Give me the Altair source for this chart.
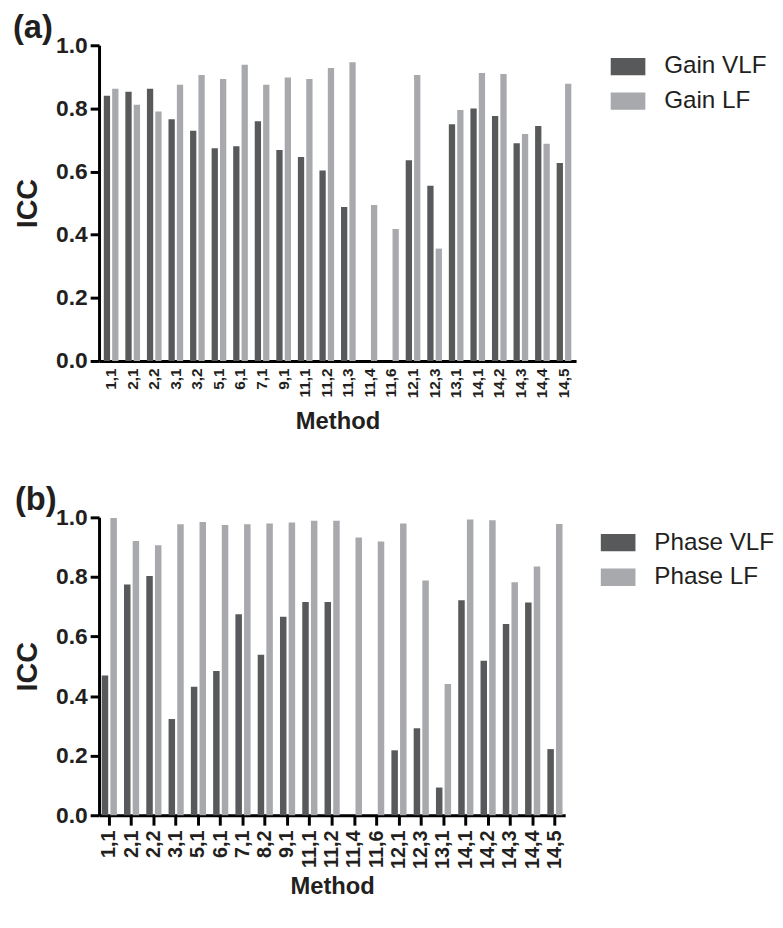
import altair as alt
import pandas as pd

# ---------------- data ----------------
methods_a = ["1,1", "2,1", "2,2", "3,1", "3,2", "5,1", "6,1", "7,1", "9,1", "11,1", "11,2",
             "11,3", "11,4", "11,6", "12,1", "12,3", "13,1", "14,1", "14,2", "14,3", "14,4", "14,5"]
gain_vlf = [0.840, 0.853, 0.862, 0.766, 0.729, 0.674, 0.680, 0.759, 0.668, 0.646, 0.603,
            0.488, None, None, 0.636, 0.555, 0.750, 0.800, 0.776, 0.690, 0.744, 0.627]
gain_lf = [0.862, 0.812, 0.790, 0.875, 0.906, 0.893, 0.938, 0.875, 0.898, 0.893, 0.928,
           0.946, 0.494, 0.418, 0.906, 0.356, 0.795, 0.912, 0.909, 0.719, 0.688, 0.878]
series_a = ["Gain VLF", "Gain LF"]

methods_b = ["1,1", "2,1", "2,2", "3,1", "5,1", "6,1", "7,1", "8,2", "9,1", "11,1", "11,2",
             "11,4", "11,6", "12,1", "12,3", "13,1", "14,1", "14,2", "14,3", "14,4", "14,5"]
phase_vlf = [0.469, 0.775, 0.803, 0.323, 0.431, 0.484, 0.675, 0.539, 0.666, 0.716, 0.716,
             None, None, 0.218, 0.292, 0.093, 0.722, 0.519, 0.642, 0.714, 0.222]
phase_lf = [0.998, 0.921, 0.906, 0.977, 0.984, 0.974, 0.977, 0.979, 0.983, 0.989, 0.989,
            0.932, 0.919, 0.979, 0.788, 0.441, 0.993, 0.990, 0.782, 0.835, 0.978]
series_b = ["Phase VLF", "Phase LF"]

y_ticks = [0.0, 0.2, 0.4, 0.6, 0.8, 1.0]

DARK = "#58595b"
LIGHT = "#a7a9ac"
FONT = "Liberation Sans"


def panel(methods, vlf, lf, names, tag, width, height, pad_outer,
          x_label_size, x_ticks, x_label_pad, x_title_pad, leg_x, leg_y, tag_x):
    n = len(methods)
    df = pd.DataFrame({
        "Method": methods + methods,
        "Series": [names[0]] * n + [names[1]] * n,
        "ICC": vlf + lf,
    })
    bars = alt.Chart(df).mark_bar().encode(
        x=alt.X("Method:N", sort=methods, title="Method",
                scale=alt.Scale(paddingInner=0.32, paddingOuter=pad_outer),
                axis=alt.Axis(labelAngle=270, labelFontSize=x_label_size,
                              labelPadding=x_label_pad, ticks=x_ticks, tickSize=10,
                              tickWidth=3, labelOverlap=False, titlePadding=x_title_pad,
                              titleFontSize=24)),
        xOffset=alt.XOffset("Series:N", sort=names,
                            scale=alt.Scale(domain=names, paddingInner=0.25, paddingOuter=0)),
        y=alt.Y("ICC:Q", title="ICC",
                scale=alt.Scale(domain=[0, 1], nice=False),
                axis=alt.Axis(values=y_ticks, format=".1f", labelFontSize=23,
                              tickSize=9, tickWidth=3, labelPadding=3,
                              titleFontSize=29, titlePadding=13)),
        color=alt.Color("Series:N", sort=names, title=None,
                        scale=alt.Scale(domain=names, range=[DARK, LIGHT]),
                        legend=alt.Legend(orient="none", legendX=leg_x, legendY=leg_y,
                                          symbolType="M-1,-0.5H1V0.5H-1Z", symbolSize=1225,
                                          symbolStrokeWidth=0, symbolOpacity=1,
                                          labelFontSize=24.5, labelFont=FONT,
                                          labelFontWeight="normal", labelColor="#231f20",
                                          labelOffset=19, rowPadding=6, labelLimit=300)),
    )
    label = alt.Chart(pd.DataFrame({"t": [tag]})).mark_text(
        font=FONT, fontSize=33, fontWeight="bold", align="left",
        baseline="alphabetic", color="#231f20"
    ).encode(x=alt.value(tag_x), y=alt.value(-7), text="t:N")
    return alt.layer(bars, label).properties(width=width, height=height)


top = panel(methods_a, gain_vlf, gain_lf, series_a, "(a)", 482, 319, 0.22,
            15.5, False, 7, 12, 517, 4, -87)
bottom = panel(methods_b, phase_vlf, phase_lf, series_b, "(b)", 471, 301, 0.12,
               20, True, 5, 6, 507, 8, -85)

chart = alt.vconcat(top, bottom, spacing=51).resolve_scale(
    x="independent", color="independent", xOffset="independent"
).resolve_legend(color="independent").properties(
    padding={"left": 5, "top": 0, "right": 0, "bottom": 0}
).configure_view(
    strokeWidth=0
).configure_axis(
    grid=False, domainColor="black", domainWidth=3, tickColor="black",
    labelColor="#231f20", titleColor="#231f20", labelFont=FONT, titleFont=FONT,
    labelFontWeight="bold", titleFontWeight="bold"
)

chart.save("out.html", embed_options={"renderer": "svg", "actions": False})
